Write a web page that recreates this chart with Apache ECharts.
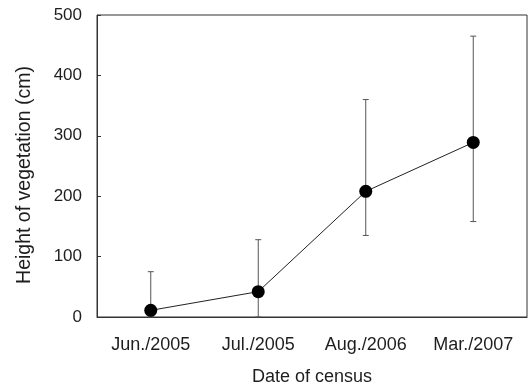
<!DOCTYPE html>
<html>
<head>
<meta charset="utf-8">
<script src="https://cdn.jsdelivr.net/npm/echarts@6/dist/echarts.min.js"></script>
<style>
  html, body { margin: 0; padding: 0; background: #fff; }
  #chart { width: 530px; height: 386px; }
</style>
</head>
<body>
<div id="chart"></div>
<script>
// Census dates and mean vegetation height with error range (cm)
const categories = ['Jun./2005', 'Jul./2005', 'Aug./2006', 'Mar./2007'];
const meanHeight = [11, 42, 208, 289];
const upperBound = [75, 128, 360, 465];
const lowerBound = [0, 0, 135, 158];
const yTicks = [0, 100, 200, 300, 400, 500];

const textColor = '#1e1e1e';
const font = 'Liberation Sans, Arial, sans-serif';

const chart = echarts.init(document.getElementById('chart'), null, { renderer: 'canvas' });

const errorData = categories.map((c, i) => [i, lowerBound[i], upperBound[i]]);

chart.setOption({
  animation: false,
  backgroundColor: '#fff',
  grid: {
    left: 97, right: 3, top: 15, bottom: 69,
    outerBoundsMode: 'none',
    containLabel: false,
    show: true, borderColor: '#333', borderWidth: 1
  },
  xAxis: {
    type: 'category',
    data: categories,
    boundaryGap: true,
    name: 'Date of census',
    nameLocation: 'middle',
    nameGap: 51,
    nameTextStyle: { color: textColor, fontSize: 18, fontFamily: font },
    axisLine: { lineStyle: { color: '#333', width: 1 } },
    axisTick: { inside: true, length: 4, alignWithLabel: false, lineStyle: { color: '#333' } },
    axisLabel: { color: textColor, fontSize: 18, fontFamily: font, margin: 19 },
    splitLine: { show: false }
  },
  yAxis: {
    type: 'value',
    min: yTicks[0],
    max: yTicks[yTicks.length - 1],
    interval: 100,
    name: 'Height of vegetation (cm)',
    nameLocation: 'middle',
    nameGap: 62,
    nameTextStyle: { color: textColor, fontSize: 19.5, fontFamily: font, padding: [0, 18, 0, 0] },
    axisLine: { show: true, lineStyle: { color: '#333', width: 1 } },
    axisTick: { show: true, inside: true, length: 4, lineStyle: { color: '#333' } },
    axisLabel: { color: textColor, fontSize: 17, fontFamily: font, margin: 15 },
    splitLine: { show: false }
  },
  series: [
    {
      type: 'custom',
      name: 'range',
      data: errorData,
      z: 1,
      renderItem: function (params, api) {
        const x = api.value(0);
        const lo = api.coord([x, api.value(1)]);
        const hi = api.coord([x, api.value(2)]);
        const cap = 3;
        const style = { stroke: '#555', lineWidth: 1, fill: null };
        return {
          type: 'group',
          children: [
            { type: 'line', shape: { x1: hi[0], y1: hi[1], x2: lo[0], y2: lo[1] }, style: style },
            { type: 'line', shape: { x1: hi[0] - cap, y1: hi[1], x2: hi[0] + cap, y2: hi[1] }, style: style },
            { type: 'line', shape: { x1: lo[0] - cap, y1: lo[1], x2: lo[0] + cap, y2: lo[1] }, style: style }
          ]
        };
      }
    },
    {
      type: 'line',
      name: 'mean',
      data: meanHeight,
      z: 3,
      symbol: 'circle',
      symbolSize: 13,
      itemStyle: { color: '#000' },
      lineStyle: { color: '#222', width: 1 }
    }
  ]
});
</script>
</body>
</html>
